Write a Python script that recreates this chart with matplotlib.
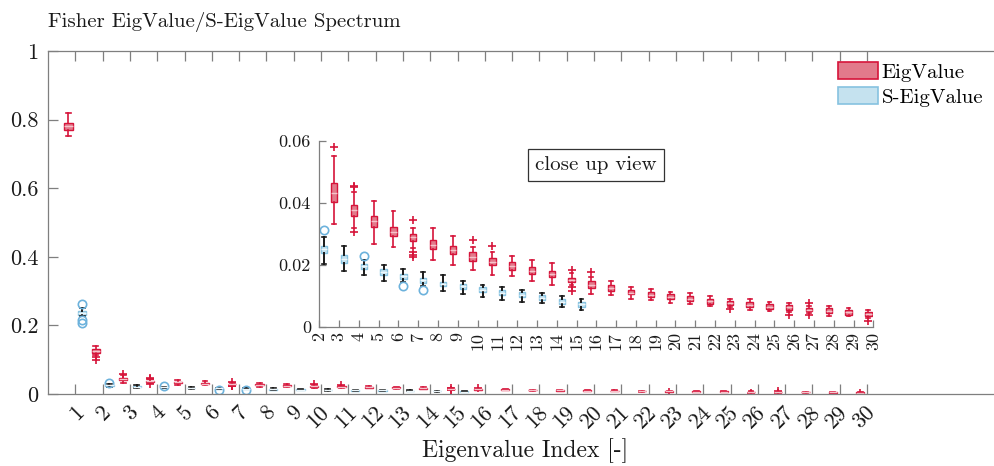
import matplotlib
matplotlib.use("Agg")
import matplotlib.pyplot as plt
from matplotlib.patches import Patch
from matplotlib.transforms import ScaledTranslation

plt.rcParams['font.family'] = 'cmr10'
plt.rcParams['axes.formatter.use_mathtext'] = True

# EigValue boxes, eigenvalue index 1..30
eig_q1 = [0.771, 0.120, 0.0403, 0.0358, 0.0322, 0.0291, 0.0278, 0.0251, 0.0234, 0.0213,
          0.0200, 0.0184, 0.0171, 0.0160, 0.0143, 0.0125, 0.0114, 0.0104, 0.0096, 0.0089,
          0.0082, 0.0074, 0.0069, 0.0062, 0.0057, 0.0055, 0.0050, 0.0044, 0.0039, 0.0033]
eig_med = [0.781, 0.126, 0.0432, 0.0375, 0.0340, 0.0306, 0.0290, 0.0265, 0.0246, 0.0226,
           0.0210, 0.0196, 0.0180, 0.0170, 0.0150, 0.0135, 0.0124, 0.0110, 0.0103, 0.0097,
           0.0090, 0.0082, 0.0075, 0.0071, 0.0065, 0.0062, 0.0055, 0.0052, 0.0046, 0.0040]
eig_q3 = [0.791, 0.132, 0.0465, 0.0391, 0.0356, 0.0322, 0.0300, 0.0281, 0.0259, 0.0240,
          0.0221, 0.0208, 0.0191, 0.0180, 0.0157, 0.0146, 0.0135, 0.0119, 0.0112, 0.0104,
          0.0098, 0.0089, 0.0082, 0.0080, 0.0073, 0.0069, 0.0060, 0.0060, 0.0053, 0.0046]
eig_lo = [0.752, 0.114, 0.0330, 0.0320, 0.0268, 0.0257, 0.0255, 0.0214, 0.0200, 0.0182,
          0.0168, 0.0165, 0.0149, 0.0135, 0.0135, 0.0106, 0.0103, 0.0089, 0.0085, 0.0078,
          0.0074, 0.0066, 0.0065, 0.0055, 0.0050, 0.0049, 0.0045, 0.0036, 0.0033, 0.0028]
eig_hi = [0.818, 0.139, 0.0550, 0.0435, 0.0404, 0.0374, 0.0318, 0.0319, 0.0294, 0.0257,
          0.0240, 0.0229, 0.0216, 0.0205, 0.0172, 0.0160, 0.0149, 0.0128, 0.0122, 0.0113,
          0.0108, 0.0098, 0.0090, 0.0088, 0.0080, 0.0076, 0.0066, 0.0068, 0.0060, 0.0053]
eig_out = [[], [0.107, 0.100], [0.058], [0.0451, 0.0454, 0.0304], [], [],
           [0.0345, 0.0242, 0.0231, 0.0225], [], [], [0.028], [0.0259], [], [], [],
           [0.0184, 0.0127, 0.0116], [0.0177], [], [], [], [], [], [], [0.0058], [], [],
           [0.0039], [0.0076, 0.0039], [], [], [0.0020]]

# S-EigValue boxes, eigenvalue index 1..15
seig_q1 = [0.229, 0.0238, 0.0205, 0.0186, 0.0168, 0.0154, 0.0141, 0.0130, 0.0122, 0.0111,
           0.0102, 0.0095, 0.0085, 0.0073, 0.0065]
seig_med = [0.236, 0.0250, 0.0218, 0.0195, 0.0177, 0.0162, 0.0150, 0.0138, 0.0130, 0.0120,
            0.0110, 0.0103, 0.0093, 0.0081, 0.0072]
seig_q3 = [0.243, 0.0261, 0.0230, 0.0203, 0.0186, 0.0170, 0.0157, 0.0145, 0.0138, 0.0128,
           0.0119, 0.0111, 0.0101, 0.0089, 0.0080]
seig_lo = [0.226, 0.0203, 0.0180, 0.0166, 0.0148, 0.0143, 0.0132, 0.0114, 0.0105, 0.0095,
           0.0085, 0.0080, 0.0075, 0.0062, 0.0055]
seig_hi = [0.250, 0.0288, 0.0259, 0.0216, 0.0200, 0.0186, 0.0178, 0.0168, 0.0148, 0.0135,
           0.0128, 0.0118, 0.0110, 0.0098, 0.0088]
seig_out = [[0.262, 0.216, 0.207], [0.0313], [], [0.0227], [], [0.0130], [0.0119],
            [], [], [], [], [], [], [], []]

eig_idx = list(range(1, 31))
seig_idx = list(range(1, 16))

RED = '#d6143a'
RED_FILL = '#e27a8b'
BLUE = '#86c2e0'
BLUE_FILL = '#c5e2ef'
BLUE_OUT = '#6cb2dc'
AX_GRAY = '#7f7f7f'


def make_stats(q1, med, q3, lo, hi, out):
    return [dict(q1=a, med=b, q3=c, whislo=d, whishi=e, fliers=f)
            for a, b, c, d, e, f in zip(q1, med, q3, lo, hi, out)]


def draw_boxes(ax, width):
    ax.bxp(make_stats(seig_q1, seig_med, seig_q3, seig_lo, seig_hi, seig_out),
           positions=[i + 0.25 for i in seig_idx], widths=width, capwidths=width * 0.6,
           patch_artist=True, manage_ticks=False,
           boxprops=dict(facecolor=BLUE_FILL, edgecolor=BLUE, linewidth=1.0),
           whiskerprops=dict(color='#1a1a1a', linewidth=1.4),
           capprops=dict(color='#1a1a1a', linewidth=1.2),
           medianprops=dict(color='#eef7fb', linewidth=1.0),
           flierprops=dict(marker='o', markerfacecolor='none', markeredgecolor=BLUE_OUT,
                           markersize=6, markeredgewidth=1.2))
    ax.bxp(make_stats(eig_q1, eig_med, eig_q3, eig_lo, eig_hi, eig_out),
           positions=[i - 0.25 for i in eig_idx], widths=width, capwidths=width * 0.6,
           patch_artist=True, manage_ticks=False,
           boxprops=dict(facecolor=RED_FILL, edgecolor=RED, linewidth=1.0),
           whiskerprops=dict(color=RED, linewidth=1.2),
           capprops=dict(color=RED, linewidth=1.2),
           medianprops=dict(color='#f6c3cb', linewidth=1.0),
           flierprops=dict(marker='+', markeredgecolor=RED, markersize=6,
                           markeredgewidth=1.2))


def style_axes(ax, fs, length):
    for s in ax.spines.values():
        s.set_color(AX_GRAY)
        s.set_linewidth(0.9)
    ax.tick_params(direction='in', length=length, width=0.9, color=AX_GRAY,
                   labelsize=fs, labelcolor='#1a1a1a')


fig = plt.figure(figsize=(9.94, 4.66), dpi=100)

# main axes
ax = fig.add_axes([48 / 994, 72 / 466, 946 / 994, 343 / 466])
draw_boxes(ax, 0.3)
ax.set_xlim(0, 946 / 27.3)
ax.set_ylim(0, 1)
ax.set_xticks(eig_idx)
ax.set_xticklabels([str(i) for i in eig_idx], rotation=45, ha='right')
ax.set_yticks([0, 0.2, 0.4, 0.6, 0.8, 1])
ax.set_yticklabels(['0', '0.2', '0.4', '0.6', '0.8', '1'])
style_axes(ax, 16, 7)
ax.tick_params(axis='x', top=True, pad=6)
ax.tick_params(axis='y', pad=7)
ax.spines['right'].set_visible(False)
shift = ScaledTranslation(12 / 100, 0, fig.dpi_scale_trans)
for lab in ax.get_xticklabels():
    lab.set_transform(lab.get_transform() + shift)

fig.text(48 / 994, 1 - 27 / 466, 'Fisher EigValue/S-EigValue Spectrum',
         fontsize=15, ha='left', va='baseline', color='#1a1a1a')
fig.text(525 / 994, 1 - 457 / 466, 'Eigenvalue Index [-]',
         fontsize=17, ha='center', va='baseline', color='#1a1a1a')

handles = [Patch(facecolor=RED_FILL, edgecolor=RED, linewidth=1.2, label='EigValue'),
           Patch(facecolor=BLUE_FILL, edgecolor=BLUE, linewidth=1.2, label='S-EigValue')]
fig.legend(handles=handles, loc='upper left', bbox_to_anchor=(838 / 994, 1 - 62 / 466),
           frameon=False, fontsize=15, handlelength=1.9, handleheight=0.9,
           handletextpad=0.2, labelspacing=0.25, borderpad=0, borderaxespad=0)

# close up axes
axi = fig.add_axes([319.3 / 994, 139.3 / 466, 554 / 994, 186 / 466])
draw_boxes(axi, 0.32)
axi.set_xlim(2, 30)
axi.set_ylim(0, 0.06)
axi.set_xticks(list(range(2, 31)))
axi.set_xticklabels([str(i) for i in range(2, 31)], rotation=90)
axi.set_yticks([0, 0.02, 0.04, 0.06])
axi.set_yticklabels(['0', '0.02', '0.04', '0.06'])
style_axes(axi, 13, 5)
axi.tick_params(axis='x', pad=4)
axi.tick_params(axis='y', pad=6)
axi.spines['top'].set_visible(False)
axi.spines['right'].set_visible(False)

fig.text(596 / 994, 1 - 165 / 466, 'close up view', fontsize=15, ha='center',
         va='center', color='#1a1a1a',
         bbox=dict(boxstyle='square,pad=0.35', facecolor='white', edgecolor='#333333',
                   linewidth=0.9))

fig.savefig('out.png', dpi=100)
